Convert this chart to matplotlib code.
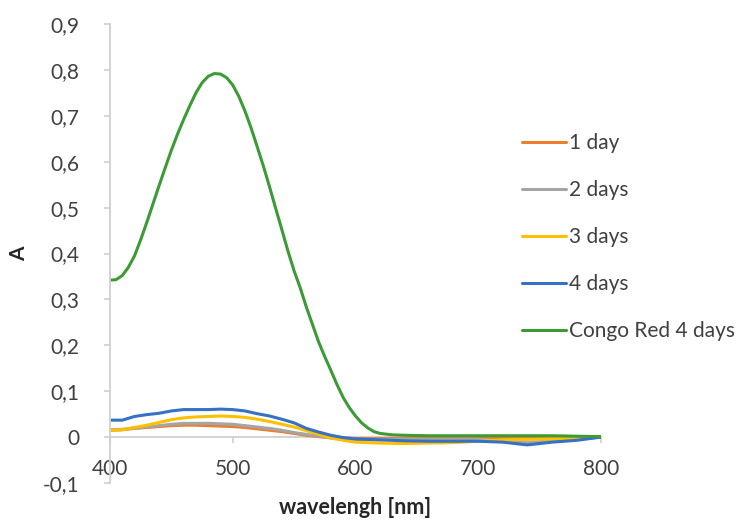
import matplotlib
matplotlib.use("Agg")
import matplotlib.pyplot as plt

plt.rcParams['font.family'] = ['Lato', 'DejaVu Sans']

wavelength = [400, 410, 420, 430, 440, 450, 460, 470, 480, 490, 500, 510, 520, 530,
              540, 550, 560, 570, 580, 590, 600, 610, 620, 640, 660, 680, 700, 720,
              740, 760, 780, 800]

day1 = [0.015, 0.016, 0.019, 0.021, 0.023, 0.025, 0.026, 0.026, 0.025, 0.024, 0.023,
        0.021, 0.018, 0.015, 0.012, 0.008, 0.004, 0.001, -0.001, -0.002, -0.003, -0.003,
        -0.003, -0.003, -0.003, -0.003, -0.003, -0.003, -0.003, -0.002, -0.001, 0.0]
day2 = [0.016, 0.017, 0.020, 0.022, 0.025, 0.028, 0.030, 0.030, 0.030, 0.029, 0.028,
        0.025, 0.022, 0.019, 0.015, 0.010, 0.006, 0.002, -0.002, -0.004, -0.005, -0.005,
        -0.005, -0.005, -0.005, -0.005, -0.005, -0.008, -0.012, -0.008, -0.004, 0.0]
day3 = [0.015, 0.016, 0.021, 0.026, 0.032, 0.038, 0.042, 0.044, 0.045, 0.046, 0.045,
        0.043, 0.039, 0.034, 0.028, 0.022, 0.014, 0.006, -0.002, -0.007, -0.011, -0.012,
        -0.013, -0.014, -0.013, -0.012, -0.009, -0.006, -0.005, -0.004, -0.002, 0.0]
day4 = [0.037, 0.037, 0.045, 0.049, 0.052, 0.057, 0.060, 0.060, 0.060, 0.061, 0.060,
        0.057, 0.051, 0.046, 0.039, 0.031, 0.019, 0.011, 0.004, -0.001, -0.004, -0.005,
        -0.006, -0.008, -0.009, -0.009, -0.009, -0.011, -0.017, -0.011, -0.007, 0.0]

# the Congo Red scan is sampled finer around its band
wavelength_cr = [400, 405, 410, 415, 420, 425, 430, 435, 440, 445, 450, 455, 460, 465,
                 470, 475, 480, 485, 490, 495, 500, 505, 510, 515, 520, 525, 530, 535,
                 540, 545, 550, 555, 560, 565, 570, 575, 580, 585, 590, 595, 600, 605,
                 610, 615, 620, 630, 640, 660, 680, 700, 720, 740, 760, 780, 800]
congo_red_4 = [0.342, 0.343, 0.352, 0.370, 0.395, 0.430, 0.468, 0.508, 0.548, 0.587,
               0.625, 0.660, 0.692, 0.722, 0.750, 0.772, 0.786, 0.792, 0.791, 0.783,
               0.767, 0.742, 0.710, 0.673, 0.632, 0.590, 0.545, 0.498, 0.452, 0.405,
               0.362, 0.325, 0.283, 0.245, 0.207, 0.175, 0.145, 0.114, 0.086, 0.064,
               0.046, 0.031, 0.020, 0.012, 0.008, 0.005, 0.004, 0.003, 0.003, 0.003,
               0.003, 0.003, 0.003, 0.002, 0.001]

series_names = ["1 day", "2 days", "3 days", "4 days", "Congo Red 4 days"]
series_colors = ["#ED7D31", "#A5A5A5", "#FFC000", "#3571C5", "#3C9B36"]

x_ticks = [400, 500, 600, 700, 800]
y_ticks = [-0.1, 0, 0.1, 0.2, 0.3, 0.4, 0.5, 0.6, 0.7, 0.8, 0.9]
y_tick_labels = ["-0,1", "0", "0,1", "0,2", "0,3", "0,4", "0,5", "0,6", "0,7", "0,8", "0,9"]

fig = plt.figure(figsize=(7.56, 5.24), dpi=100)
ax = fig.add_axes([0.1455, 0.0782, 0.6495, 0.8760])

xs_all = [wavelength] * 4 + [wavelength_cr]
ys_all = [day1, day2, day3, day4, congo_red_4]
for xs, ys, name, col in zip(xs_all, ys_all, series_names, series_colors):
    ax.plot(xs, ys, color=col, lw=2.2, label=name, solid_capstyle='round',
            solid_joinstyle='round')

ax.set_xlim(400, 800)
ax.set_ylim(-0.1, 0.9)
ax.set_xticks(x_ticks)
ax.set_yticks(y_ticks)
ax.set_yticklabels(y_tick_labels)

axis_col = "#D0D0D0"
for side in ("top", "right"):
    ax.spines[side].set_visible(False)
ax.spines["bottom"].set_position(("data", 0))
ax.spines["bottom"].set_color(axis_col)
ax.spines["left"].set_color(axis_col)
ax.spines["bottom"].set_linewidth(1.3)
ax.spines["left"].set_linewidth(1.3)
ax.spines["bottom"].set_zorder(0)

ax.tick_params(axis="y", direction="out", length=4, width=1.2, color=axis_col,
               pad=18, labelsize=15, labelcolor="#404040")
ax.tick_params(axis="x", direction="out", length=4, width=1.2, color=axis_col,
               pad=12, labelsize=15, labelcolor="#404040")

ax.set_xlabel("wavelengh [nm]", fontsize=15.5, fontweight="bold", color="#262626")
ax.xaxis.set_label_coords(0.5, -0.03, transform=ax.transAxes)
ax.set_ylabel("A", fontsize=15, fontweight="bold", color="#262626")
ax.yaxis.set_label_coords(-0.165, 0.5)

fig.legend(loc="upper left", bbox_to_anchor=(522 / 756, 1 - 133 / 524), frameon=False,
           fontsize=15, handlelength=2.1, handletextpad=0.15, labelspacing=1.3,
           borderpad=0, borderaxespad=0, labelcolor="#404040")

fig.savefig("out.png", dpi=100)
